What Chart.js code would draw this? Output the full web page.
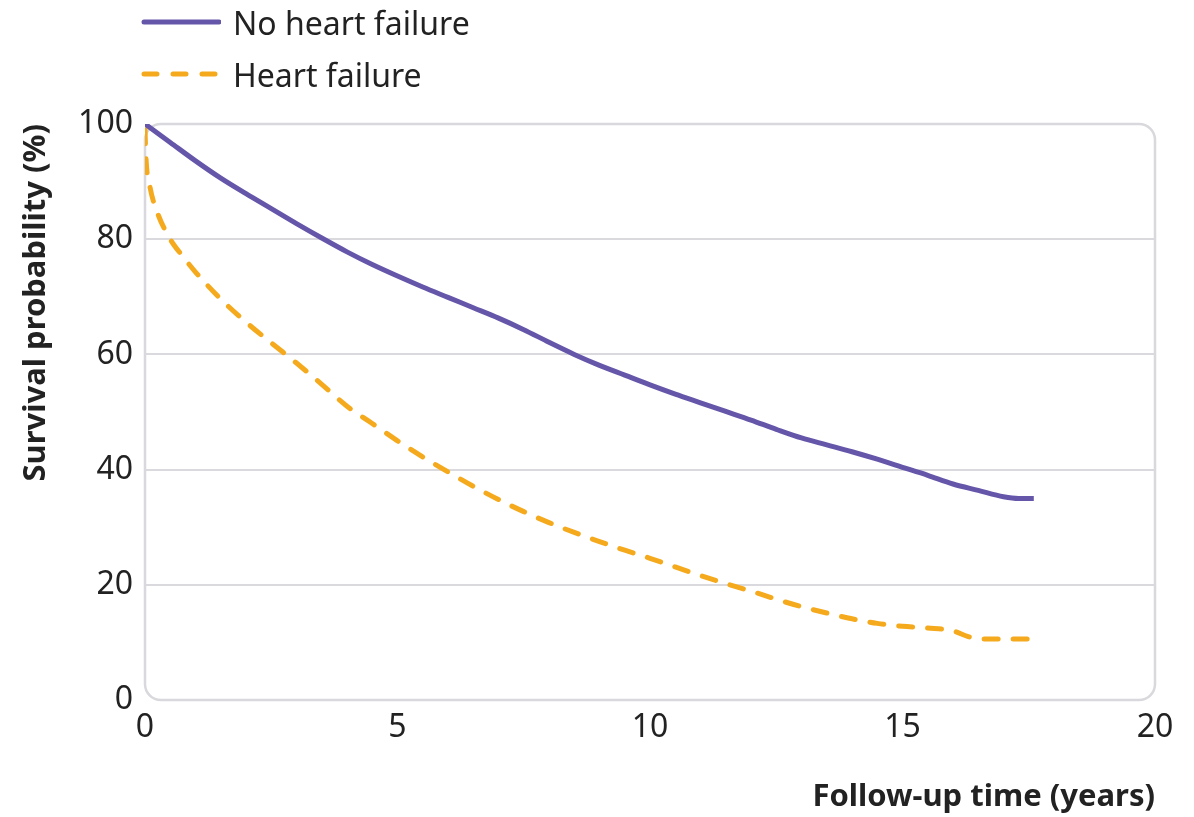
<!DOCTYPE html>
<html>
<head>
<meta charset="utf-8">
<script src="https://cdn.jsdelivr.net/npm/chart.js@4"></script>
<style>
  html, body { margin: 0; padding: 0; background: #fff; }
  #wrap { position: relative; width: 1194px; height: 817px; }
  #legend { position: absolute; left: 141px; top: -4px; font-family: "Noto Sans", sans-serif; font-size: 32px; color: #222; }
  .item { display: flex; align-items: center; height: 52px; }
  .item svg { margin-right: 12px; }
</style>
</head>
<body>
<div id="wrap">
  <canvas id="grafico" width="1194" height="817"></canvas>
  <div id="legend">
    <div class="item">
      <svg width="80" height="10"><line x1="3" y1="5" x2="78" y2="5" stroke="#6656a9" stroke-width="5" stroke-linecap="round"/></svg>
      <span>No heart failure</span>
    </div>
    <div class="item">
      <svg width="80" height="10"><line x1="3" y1="5" x2="80" y2="5" stroke="#f5aa1e" stroke-width="5" stroke-dasharray="13 16" stroke-linecap="round"/></svg>
      <span>Heart failure</span>
    </div>
  </div>
</div>
<script>
// tempos (anos) e sobrevida (%)
const tempoSemIC = [0, 0.5, 1, 1.5, 2, 2.5, 3, 3.5, 4, 4.5, 5, 5.5, 6, 6.5, 7, 7.5, 8, 8.5, 9, 9.5, 10, 10.5, 11, 11.5, 12, 12.5, 13, 13.5, 14, 14.5, 15, 15.5, 16, 16.5, 17, 17.3, 17.6];
const semIC = [100, 96.8, 93.6, 90.6, 87.9, 85.3, 82.7, 80.2, 77.8, 75.6, 73.6, 71.7, 69.9, 68.1, 66.3, 64.3, 62.1, 60, 58.1, 56.4, 54.7, 53.1, 51.6, 50.1, 48.6, 47, 45.5, 44.3, 43.1, 41.8, 40.4, 39, 37.5, 36.4, 35.3, 35, 35];

const tempoIC = [0, 0.02, 0.1, 0.25, 0.5, 0.75, 1, 1.5, 2, 2.5, 3, 3.5, 4, 4.5, 5, 5.5, 6, 6.5, 7, 7.5, 8, 8.5, 9, 9.5, 10, 10.5, 11, 11.5, 12, 12.5, 13, 13.5, 14, 14.5, 15, 15.5, 16, 16.3, 16.6, 17, 17.6];
const comIC = [99, 94, 89, 84.5, 80, 77, 74.3, 69.6, 65.6, 62, 58.5, 54.8, 51, 48, 45, 42.2, 39.6, 37.1, 34.8, 32.7, 30.8, 29.1, 27.5, 26, 24.6, 23.1, 21.6, 20.2, 18.9, 17.5, 16.2, 15.1, 14.1, 13.3, 12.8, 12.5, 12, 11, 10.6, 10.6, 10.6];

const ticksX = [0, 5, 10, 15, 20];
const ticksY = [0, 20, 40, 60, 80, 100];

const pontos = (xs, ys) => xs.map((x, i) => ({ x: x, y: ys[i] }));

// moldura arredondada da area do grafico
const moldura = {
  id: "moldura",
  beforeDatasetsDraw(chart) {
    const { ctx, chartArea: a } = chart;
    ctx.save();
    ctx.strokeStyle = "#d8d8dd";
    ctx.lineWidth = 2.5;
    ctx.beginPath();
    ctx.roundRect(a.left, a.top, a.right - a.left, a.bottom - a.top, 16);
    ctx.stroke();
    ctx.restore();
  }
};

const fonte = "'Noto Sans', sans-serif";

new Chart(document.getElementById("grafico"), {
  type: "line",
  data: {
    datasets: [
      {
        label: "No heart failure",
        data: pontos(tempoSemIC, semIC),
        borderColor: "#6656a9",
        borderWidth: 5,
        pointRadius: 0,
        cubicInterpolationMode: "monotone"
      },
      {
        label: "Heart failure",
        data: pontos(tempoIC, comIC),
        borderColor: "#f5aa1e",
        borderWidth: 5,
        borderDash: [14, 15],
        borderCapStyle: "round",
        pointRadius: 0,
        cubicInterpolationMode: "monotone"
      }
    ]
  },
  options: {
    responsive: false,
    animation: false,
    layout: { padding: { top: 124, right: 39, left: 0, bottom: 0 } },
    plugins: { legend: { display: false }, tooltip: { enabled: false } },
    scales: {
      x: {
        type: "linear",
        min: 0,
        max: 20,
        afterBuildTicks: s => { s.ticks = ticksX.map(v => ({ value: v })); },
        afterFit: s => { s.height = 117; },
        grid: { display: false, drawTicks: false },
        border: { display: false },
        ticks: { color: "#222", padding: 9, font: { family: fonte, size: 32 } },
        title: {
          display: true,
          text: "Follow-up time (years)",
          align: "end",
          color: "#222",
          padding: { bottom: 1 },
          font: { family: fonte, size: 31, weight: "bold" }
        }
      },
      y: {
        min: 0,
        max: 100,
        afterBuildTicks: s => { s.ticks = ticksY.map(v => ({ value: v })); },
        afterFit: s => { s.width = 145; },
        grid: {
          drawTicks: false,
          lineWidth: 2,
          color: c => (c.tick.value === 0 || c.tick.value === 100) ? "rgba(0,0,0,0)" : "#dadade"
        },
        border: { display: false },
        ticks: { color: "#222", padding: 12, font: { family: fonte, size: 32 } },
        title: {
          display: true,
          text: "Survival probability (%)",
          align: "end",
          color: "#222",
          padding: { top: 18 },
          font: { family: fonte, size: 31, weight: "bold" }
        }
      }
    }
  },
  plugins: [moldura]
});
</script>
</body>
</html>
